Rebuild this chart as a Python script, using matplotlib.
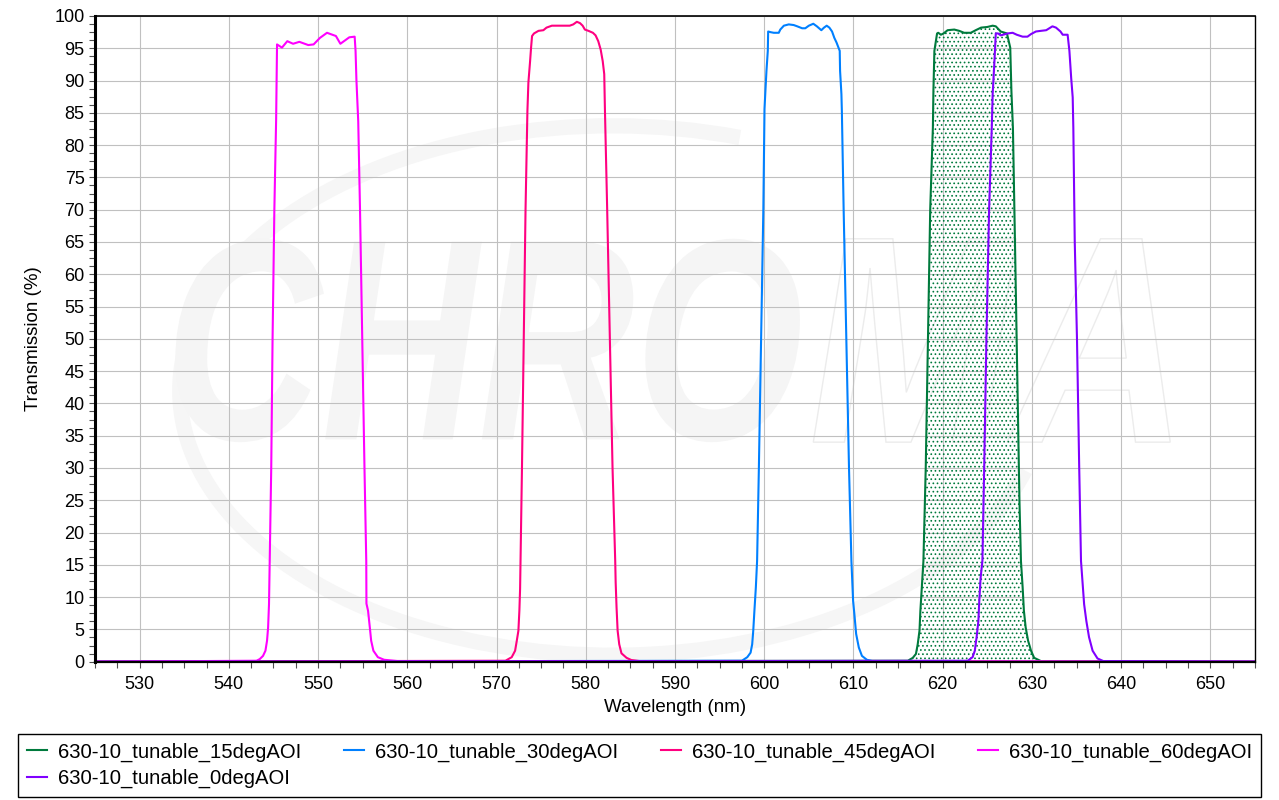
import matplotlib
matplotlib.use('Agg')
import matplotlib.pyplot as plt
from matplotlib.ticker import MultipleLocator
from matplotlib.textpath import TextPath
from matplotlib.patches import PathPatch, Arc
from matplotlib.font_manager import FontProperties
from matplotlib.transforms import Affine2D

plt.rcParams['font.family'] = ['Liberation Sans', 'DejaVu Sans']
plt.rcParams['hatch.linewidth'] = 0.7
plt.rcParams['hatch.color'] = '#007a3d'

# 15 deg AOI
wl_15 = [525, 616.1, 616.65, 617.0, 617.2, 617.4, 617.5, 617.66, 617.84, 618.1, 618.35, 618.6,
         618.9, 618.96, 619.07, 619.18, 619.37, 619.5, 619.8, 620.1, 620.55, 621.3, 621.85,
         622.4, 623.15, 623.7, 624.3, 625.0, 625.6, 625.95, 626.5, 627.2, 627.35, 627.57,
         627.7, 627.87, 628.1, 628.35, 628.6, 628.77, 628.96, 629.1, 629.3, 629.57, 629.9,
         630.25, 631.0, 655]
t_15 = [0, 0.15, 0.6, 1.2, 2.7, 4.8, 7.9, 11.5, 15.6, 30, 50, 70,
        82.7, 88.4, 94.6, 95.6, 97.3, 97.4, 97.1, 97.3, 97.8, 97.9, 97.7,
        97.4, 97.4, 97.8, 98.2, 98.3, 98.5, 98.4, 97.6, 97.3, 96.4, 95.1,
        88.4, 82.7, 65, 45, 25, 15.6, 11.5, 7.9, 5.3, 3.25, 1.7,
        0.6, 0.1, 0]

# 30 deg AOI
wl_30 = [525, 597.5, 598.1, 598.47, 598.65, 598.77, 598.9, 599.06, 599.2, 599.4, 599.65, 599.9,
         600.03, 600.14, 600.25, 600.4, 600.44, 600.7, 601.07, 601.63, 601.8, 602.2, 602.75,
         603.3, 603.7, 604.25, 604.6, 605.0, 605.5, 605.9, 606.4, 606.7, 607.0, 607.3, 607.6,
         607.86, 608.1, 608.35, 608.46, 608.5, 608.65, 608.7, 608.9, 609.2, 609.5, 609.77,
         609.96, 610.1, 610.3, 610.6, 610.95, 611.5, 612.1, 655]
t_30 = [0, 0.15, 0.7, 1.4, 2.7, 4.8, 7.9, 11.5, 15.6, 30, 50, 70,
        85.6, 88.6, 91.5, 94.6, 97.6, 97.5, 97.4, 97.4, 97.9, 98.5, 98.7,
        98.6, 98.4, 98.1, 98.1, 98.5, 98.8, 98.4, 97.8, 98.2, 98.5, 98.2, 97.6,
        96.6, 95.9, 95.0, 94.6, 91.5, 87.9, 85.3, 70, 50, 30, 15.6,
        9.4, 7.4, 4.3, 2.2, 0.9, 0.3, 0.1, 0]

# 45 deg AOI
wl_45 = [525, 571.0, 571.7, 572.08, 572.27, 572.45, 572.56, 572.64, 572.85, 573.05, 573.25,
         573.46, 573.57, 573.76, 573.87, 573.98, 574.2, 574.7, 575.25, 575.6, 576.2, 577.1,
         578.2, 578.6, 579.0, 579.35, 579.65, 579.9, 580.3, 580.8, 581.1, 581.4, 581.67,
         581.9, 582.07, 582.15, 582.4, 582.7, 583.0, 583.3, 583.35, 583.45, 583.57, 583.75,
         584.0, 584.57, 585.1, 586.0, 655]
t_45 = [0, 0.15, 0.7, 1.7, 3.25, 4.8, 7.9, 11.3, 30, 50, 70,
        85.3, 89.7, 93.0, 95.1, 96.9, 97.3, 97.7, 97.8, 98.2, 98.5, 98.5,
        98.5, 98.7, 99.1, 98.9, 98.5, 97.9, 97.7, 97.4, 97.0, 96.1, 94.8,
        93.0, 91.0, 85.3, 70, 50, 30, 15.6, 12.3, 8.4, 4.8, 2.7,
        1.3, 0.6, 0.26, 0.1, 0]

# 60 deg AOI
wl_60 = [525, 543.1, 543.46, 543.83, 544.1, 544.28, 544.4, 544.5, 544.58, 544.75, 544.9,
         545.1, 545.3, 545.4, 545.95, 546.55, 547.2, 547.9, 548.9, 549.5, 550.2, 551.0,
         552.0, 552.5, 553.5, 554.1, 554.2, 554.3, 554.5, 554.7, 554.95, 555.2, 555.4,
         555.42, 555.6, 555.8, 555.95, 556.2, 556.7, 557.4, 558.9, 655]
t_60 = [0, 0.15, 0.4, 0.9, 1.7, 3.25, 5.3, 8.9, 15.6, 30, 50,
        70, 84, 95.6, 95.1, 96.1, 95.7, 96.0, 95.5, 95.6, 96.6, 97.4,
        96.9, 95.7, 96.7, 96.8, 94.6, 90, 83.7, 70, 50, 30, 15.6,
        9.0, 7.9, 5.3, 3.25, 1.7, 0.7, 0.3, 0.1, 0]

# 0 deg AOI
wl_0 = [525, 622.8, 623.35, 623.6, 623.8, 624.0, 624.1, 624.25, 624.45, 624.65, 624.9, 625.2,
        625.5, 625.6, 625.8, 625.95, 626.2, 626.5, 627.3, 627.84, 628.3, 628.96, 629.5,
        629.9, 630.45, 631.0, 631.6, 631.95, 632.3, 632.7, 633.2, 633.45, 634.0, 634.2,
        634.4, 634.57, 634.64, 634.8, 635.05, 635.3, 635.5, 635.85, 636.1, 636.4, 636.8,
        637.35, 638.0, 655]
t_0 = [0, 0.15, 0.7, 1.7, 3.8, 6.3, 9.4, 13, 15.6, 30, 50, 70,
       82.7, 87.9, 93.0, 97.3, 97.3, 97.0, 97.3, 97.4, 97.1, 96.8, 96.8,
       97.2, 97.6, 97.7, 97.8, 98.1, 98.4, 98.2, 97.6, 97.1, 97.1, 94.6,
       90.4, 87.4, 82.7, 65, 50, 30, 15.6, 8.9, 6.3, 3.8, 1.7,
       0.5, 0.1, 0]

names = ['630-10_tunable_15degAOI', '630-10_tunable_30degAOI', '630-10_tunable_45degAOI',
         '630-10_tunable_60degAOI', '630-10_tunable_0degAOI']
colors = ['#007a3d', '#0080ff', '#ff0080', '#ff00ff', '#8000ff']

fig = plt.figure(figsize=(12.79, 8), dpi=100)
ax = fig.add_axes([95 / 1279, 1 - 661.7 / 800, 1160 / 1279, 645.7 / 800])

# faint watermark
wm_prop = FontProperties(family='Liberation Sans', weight='bold', style='italic')


def add_word(word, x0, x1, y0, y1, face, edge, lw):
    tp = TextPath((0, 0), word, size=1, prop=wm_prop)
    bb = tp.get_extents()
    tr = Affine2D().translate(-bb.x0, -bb.y0).scale((x1 - x0) / bb.width, (y1 - y0) / bb.height).translate(x0, y0)
    patch = PathPatch(tr.transform_path(tp), facecolor=face, edgecolor=edge, lw=lw, zorder=0.2)
    ax.add_patch(patch)


add_word('CHRO', 534, 604, 34, 65.5, '#f5f5f5', 'none', 0)
add_word('MA', 605.5, 645.5, 34, 65.5, 'none', '#ececec', 1.0)
ax.add_patch(Arc((583, 42), 97, 82, theta1=70, theta2=345, lw=11, color='#f6f6f6', zorder=0.1))

wls = [wl_15, wl_30, wl_45, wl_60, wl_0]
ts = [t_15, t_30, t_45, t_60, t_0]

ax.fill_between(wl_15, t_15, 0, facecolor='none', edgecolor=colors[0], hatch='....', linewidth=0, zorder=1)

lines = []
for wl, t, c, n in zip(wls, ts, colors, names):
    ln, = ax.plot(wl, t, color=c, lw=1.5, label=n, zorder=2)
    lines.append(ln)

ax.set_xlim(525, 655)
ax.set_ylim(0, 100)
ax.xaxis.set_major_locator(MultipleLocator(10))
ax.xaxis.set_minor_locator(MultipleLocator(2.5))
ax.yaxis.set_major_locator(MultipleLocator(5))
ax.yaxis.set_minor_locator(MultipleLocator(1.25))
ax.tick_params(which='both', direction='out', length=4, width=0.8, color='#505050', labelsize=13)
ax.tick_params(axis='x', pad=6)

ax.set_axisbelow(True)
ax.grid(True, which='major', color='#c0c0c0', lw=0.8)

ax.spines['left'].set_linewidth(2.2)
ax.spines['bottom'].set_linewidth(1.6)
ax.spines['top'].set_linewidth(1.2)
ax.spines['right'].set_linewidth(1.0)

ax.set_xlabel('Wavelength (nm)', fontsize=13.5)
ax.set_ylabel('Transmission (%)', fontsize=13.5)
ax.xaxis.set_label_coords(0.5, -0.058)
ax.yaxis.set_label_coords(-0.046, 0.5)

# matplotlib fills legend columns first, so reorder to get rows like the original
order = [0, 4, 1, 2, 3]
leg = fig.legend([lines[i] for i in order], [names[i] for i in order], ncol=4,
                 loc='upper left', mode='expand',
                 bbox_to_anchor=(18 / 1279, 1 - 799 / 800, 1243 / 1279, 65 / 800),
                 fancybox=False, edgecolor='black', framealpha=1, fontsize=14.6,
                 handlelength=1.0, handletextpad=0.55, columnspacing=1.5,
                 borderpad=0.42, labelspacing=0.35, borderaxespad=0)
leg.get_frame().set_linewidth(1.0)

fig.savefig('out.png', dpi=100)
